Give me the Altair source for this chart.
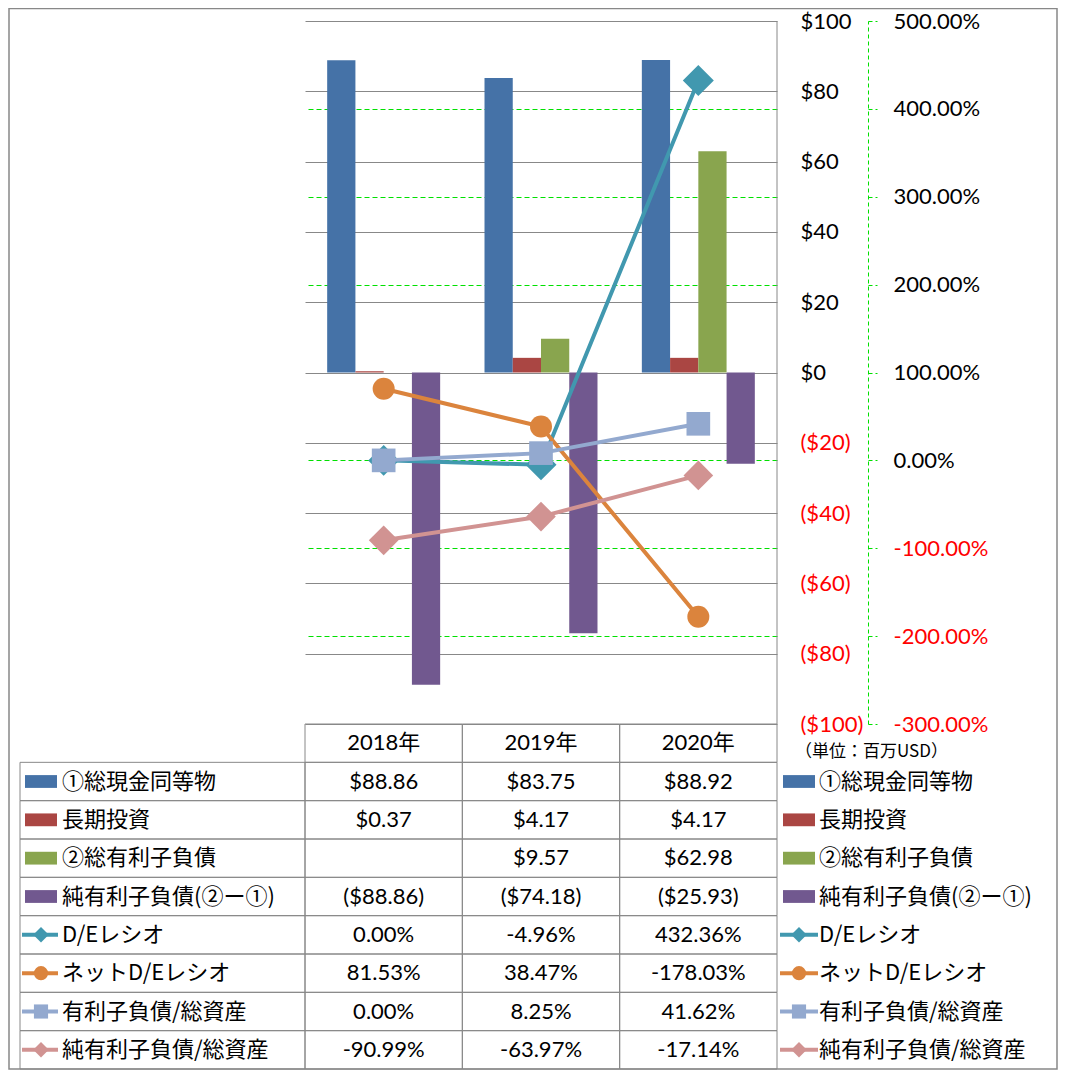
import altair as alt
import pandas as pd

# ---------------- data ----------------
years = ["2018年", "2019年", "2020年"]

bar_names = ["①総現金同等物", "長期投資", "②総有利子負債", "純有利子負債(②ー①)"]
cash = [88.86, 83.75, 88.92]
lt_invest = [0.37, 4.17, 4.17]
debt = [None, 9.57, 62.98]
net_debt = [-88.86, -74.18, -25.93]

line_names = ["D/Eレシオ", "ネットD/Eレシオ", "有利子負債/総資産", "純有利子負債/総資産"]
de_ratio = [0.00, -4.96, 432.36]
net_de_ratio = [81.53, 38.47, -178.03]
debt_to_assets = [0.00, 8.25, 41.62]
net_debt_to_assets = [-90.99, -63.97, -17.14]

usd_ticks = list(range(-100, 101, 20))
pct_ticks = list(range(-300, 501, 100))
unit_note = "（単位：百万USD）"

# ---------------- styles ----------------
bar_colors = ["#4572A7", "#AA4643", "#89A54E", "#71588F"]
line_colors = ["#4198AF", "#DB843D", "#93A9CF", "#D19392"]
line_shapes = ["diamond", "circle", "square", "diamond"]
line_sizes = [960, 484, 560, 880]
legend_sizes = [240, 200, 200, 240]
FONT = "Noto Sans CJK JP"
NUMFONT = "Lato, Noto Sans CJK JP"
GRID = "#888888"
GREEN = "#00E000"
W, H = 472, 703
TOP = 13  # plot top inside the chart

# table geometry relative to the plot origin
T0 = H            # header top
T1 = H + 345      # table bottom

# ---------------- tables ----------------
bar_series = [cash, lt_invest, debt, net_debt]
line_series = [de_ratio, net_de_ratio, debt_to_assets, net_debt_to_assets]


def fmt_usd(v):
    if v is None:
        return ""
    return f"(${-v:.2f})" if v < 0 else f"${v:.2f}"


def fmt_pct(v):
    return f"{v:.2f}%"


bars_df = pd.DataFrame(
    [{"year": y, "series": n, "value": v}
     for n, vals in zip(bar_names, bar_series)
     for y, v in zip(years, vals) if v is not None]
)
lines_df = pd.DataFrame(
    [{"year": y, "series": n, "value": v}
     for n, vals in zip(line_names, line_series)
     for y, v in zip(years, vals)]
)

rows = ["header"] + bar_names + line_names
table_rows = [{"row": "header", "year": y, "label": y} for y in years]
for n, vals in zip(bar_names, bar_series):
    table_rows += [{"row": n, "year": y, "label": fmt_usd(v)} for y, v in zip(years, vals)]
for n, vals in zip(line_names, line_series):
    table_rows += [{"row": n, "year": y, "label": fmt_pct(v)} for y, v in zip(years, vals)]
table_df = pd.DataFrame(table_rows)

legend_df = pd.DataFrame(
    [{"row": n, "series": n, "kind": "bar"} for n in bar_names]
    + [{"row": n, "series": n, "kind": "line"} for n in line_names]
)

all_names = bar_names + line_names
all_colors = bar_colors + line_colors
color_enc = alt.Color("series:N", scale=alt.Scale(domain=all_names, range=all_colors), legend=None)

x_scale = alt.Scale(domain=years, paddingInner=0, paddingOuter=0)
x_band = alt.X("year:N", scale=x_scale, axis=None, sort=years)
x_mid = alt.X("year:N", scale=x_scale, axis=None, sort=years, bandPosition=0.5)

neg_red = {"condition": {"test": "datum.value < 0", "value": "#FF0000"}, "value": "#000000"}

# ---------------- primary (bars) ----------------
usd_axis = alt.Axis(
    orient="right", values=usd_ticks, title=None,
    labelExpr="datum.value < 0 ? '($' + format(-datum.value, 'd') + ')' : '$' + format(datum.value, 'd')",
    domain=False, ticks=False, tickSize=0, labelPadding=23,
    grid=True, gridColor=GRID, gridWidth=1,
    labelFont=NUMFONT, labelFontSize=22, labelAlign="left", labelBaseline="middle",
    labelFlush=False, labelOverlap=False, labelColor=neg_red,
)
bars = alt.Chart(bars_df).mark_bar().encode(
    x=x_band,
    xOffset=alt.XOffset("series:N", scale=alt.Scale(domain=bar_names, paddingInner=0, paddingOuter=0.785), sort=bar_names),
    y=alt.Y("value:Q", scale=alt.Scale(domain=[-100, 100], nice=False), axis=usd_axis),
    color=color_enc,
)

# ---------------- secondary (lines) ----------------
pct_axis = alt.Axis(
    orient="right", values=pct_ticks, title=None, offset=91,
    labelExpr="(datum.value < 0 ? '-' : '') + format(abs(datum.value), '.2f') + '%'",
    domain=True, domainColor=GREEN, domainDash=[4, 3], domainWidth=1,
    ticks=True, tickColor=GREEN, tickDash=[4, 3], tickSize=9, tickWidth=1,
    labelPadding=16,
    grid=True, gridColor=GREEN, gridDash=[5, 3], gridWidth=1,
    gridOpacity={"condition": {"test": "datum.value == 100 || datum.value == 500 || datum.value == -300", "value": 0}, "value": 1},
    labelFont=NUMFONT, labelFontSize=22, labelAlign="left", labelBaseline="middle",
    labelFlush=False, labelOverlap=False, labelColor=neg_red,
)
pct_y = alt.Y("value:Q", scale=alt.Scale(domain=[-300, 500], nice=False), axis=pct_axis)

line_layers = []
for i, name in enumerate(line_names):
    base = alt.Chart(lines_df).transform_filter(alt.datum.series == name)
    line_layers.append(base.mark_line(strokeWidth=4).encode(x=x_mid, y=pct_y, color=color_enc))
    line_layers.append(
        base.mark_point(shape=line_shapes[i], size=line_sizes[i], filled=True, opacity=1).encode(
            x=x_mid, y=pct_y, color=color_enc)
    )
secondary = alt.layer(*line_layers)

# ---------------- data table + legends ----------------
row_y = alt.Y("row:N", scale=alt.Scale(domain=rows, range=[T0, T1], paddingInner=0, paddingOuter=0),
              axis=None, sort=rows)

cells = alt.Chart(table_df).mark_rect(filled=False, color=GRID, strokeWidth=1).encode(x=x_band, y=row_y)
label_cells = alt.Chart(legend_df).mark_rect(filled=False, color=GRID, strokeWidth=1).encode(
    x=alt.value(-285), x2=alt.value(0), y=row_y)
cell_text = alt.Chart(table_df).mark_text(font=NUMFONT, fontSize=22, color="#000000", baseline="middle").encode(
    x=x_mid, y=row_y, text="label:N")

bar_leg = legend_df[legend_df.kind == "bar"]
line_leg = legend_df[legend_df.kind == "line"]
rect_path = "M-1,-0.4H1V0.4H-1Z"

legend_layers = []
for sym_x, rule_x1, rule_x2, text_x in [(-264, -283, -247, -243), (494, 475, 513, 514)]:
    legend_layers.append(
        alt.Chart(bar_leg).mark_point(shape=rect_path, size=1024, filled=True, opacity=1).encode(
            x=alt.value(sym_x), y=row_y, color=color_enc)
    )
    legend_layers.append(
        alt.Chart(line_leg).mark_rule(strokeWidth=4).encode(
            x=alt.value(rule_x1), x2=alt.value(rule_x2), y=row_y, color=color_enc)
    )
    for i, name in enumerate(line_names):
        legend_layers.append(
            alt.Chart(line_leg).transform_filter(alt.datum.series == name).mark_point(
                shape=line_shapes[i], size=legend_sizes[i], filled=True, opacity=1).encode(
                x=alt.value(sym_x), y=row_y, color=color_enc)
        )
    legend_layers.append(
        alt.Chart(legend_df).mark_text(font=FONT, fontSize=22, color="#000000", align="left", baseline="middle").encode(
            x=alt.value(text_x), y=row_y, text="series:N")
    )

frame_df = pd.DataFrame({"note": [unit_note]})
right_edge = alt.Chart(frame_df).mark_rule(color=GRID, strokeWidth=1).encode(
    x=alt.value(W), y=alt.value(0), y2=alt.value(H))
outer = alt.Chart(frame_df).mark_rect(filled=False, color="#888888", strokeWidth=1.5).encode(
    x=alt.value(-296), x2=alt.value(752), y=alt.value(-TOP + 0.5), y2=alt.value(T1))
note = alt.Chart(frame_df).mark_text(font=FONT, fontSize=17, color="#000000", align="left", baseline="middle").encode(
    x=alt.value(490), y=alt.value(H + 28), text="note:N")

table = alt.layer(cells, label_cells, cell_text, right_edge, outer, note, *legend_layers)

chart = alt.layer(bars, secondary, table).resolve_scale(y="independent").properties(
    width=W, height=H,
    autosize=alt.AutoSizeParams(type="none"),
    padding={"left": 297, "top": TOP, "right": 281, "bottom": 346},
    background="#FFFFFF",
).configure_view(stroke=None)

chart.save("out.html", embed_options={"renderer": "svg", "actions": False})
